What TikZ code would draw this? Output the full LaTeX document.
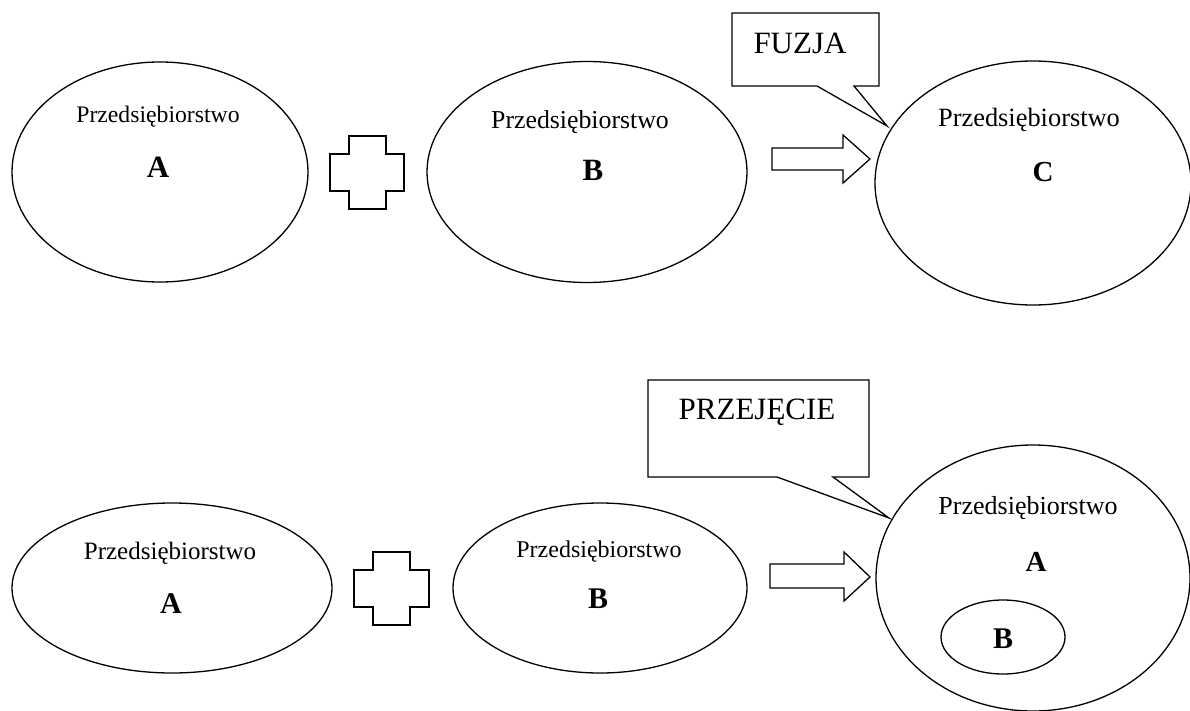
\documentclass[tikz,border=0pt]{standalone}
\usepackage{fontspec}
\setmainfont{Liberation Serif}
\usetikzlibrary{shapes.geometric}
\begin{document}
\begin{tikzpicture}[x=1pt,y=-1pt,
  org/.style={draw, ellipse, line width=1.3pt, inner sep=0pt},
  firm/.style={inner sep=0pt, font=\fontsize{#1}{#1}\selectfont},
  letter/.style={inner sep=0pt, font=\fontsize{#1}{#1}\selectfont\bfseries},
  shp/.style={draw, line width=1.3pt, line join=miter},
  ctext/.style={inner sep=0pt, font=\fontsize{31}{31}\selectfont}]
\useasboundingbox (0,0) rectangle (1190,711);
\clip (0,0) rectangle (1190,711);

% ---------- top row: FUZJA ----------
\node[org, minimum width=296pt, minimum height=220pt] (tA) at (160,172) {};
\node[org, minimum width=320pt, minimum height=221pt] (tB) at (587,172) {};
\node[org, minimum width=316pt, minimum height=244pt] (tC) at (1033,183) {};

\node[firm=23.7] (tAt) at (158,117) {Przedsiębiorstwo};
\node[letter=31] (tAl) at (158,167) {A};
\node[firm=25.8] (tBt) at (580,122) {Przedsiębiorstwo};
\node[letter=31] (tBl) at (593,170) {B};
\node[firm=26.4] (tCt) at (1029,120) {Przedsiębiorstwo};
\node[letter=29] (tCl) at (1043,172) {C};

% plus
\draw[shp] (349,136) -- (386,136) -- (386,154) -- (404,154) -- (404,191) -- (386,191)
  -- (386,209) -- (349,209) -- (349,191) -- (330,191) -- (330,154) -- (349,154) -- cycle;
% arrow
\draw[shp] (772,148) -- (843,148) -- (843,135) -- (870,159) -- (843,183) -- (843,170)
  -- (772,170) -- cycle;
% callout
\draw[shp] (732,13) -- (879,13) -- (879,86) -- (854,86) -- (887,126) -- (817,86)
  -- (732,86) -- cycle;
\node[ctext] (fuzja) at (800,43) {FUZJA};

% ---------- bottom row: PRZEJĘCIE ----------
\node[org, minimum width=320pt, minimum height=170pt] (bA) at (172,588) {};
\node[org, minimum width=294pt, minimum height=170pt] (bB) at (600,588) {};
\node[org, minimum width=314pt, minimum height=266pt] (bR) at (1033,578) {};
\node[org, minimum width=124pt, minimum height=74pt] (bIn) at (1003,637) {};

\node[firm=25] (bAt) at (170,553) {Przedsiębiorstwo};
\node[letter=30] (bAl) at (171,604) {A};
\node[firm=24] (bBt) at (599,552) {Przedsiębiorstwo};
\node[letter=30] (bBl) at (598,599) {B};
\node[firm=26] (bRt) at (1028,508) {Przedsiębiorstwo};
\node[letter=29] (bRl) at (1036,562) {A};
\node[letter=30] (bInl) at (1003,639) {B};

% plus
\draw[shp] (373,552) -- (410,552) -- (410,570) -- (429,570) -- (429,607) -- (410,607)
  -- (410,625) -- (373,625) -- (373,607) -- (354,607) -- (354,570) -- (373,570) -- cycle;
% arrow
\draw[shp] (770,564) -- (844,564) -- (844,552) -- (870,577) -- (844,601) -- (844,588)
  -- (770,588) -- cycle;
% callout
\draw[shp] (648,380) -- (869,380) -- (869,477) -- (833,477) -- (889,518) -- (777,477)
  -- (648,477) -- cycle;
\node[ctext] (przej) at (757,412) {PRZEJĘCIE};
\end{tikzpicture}
\end{document}
